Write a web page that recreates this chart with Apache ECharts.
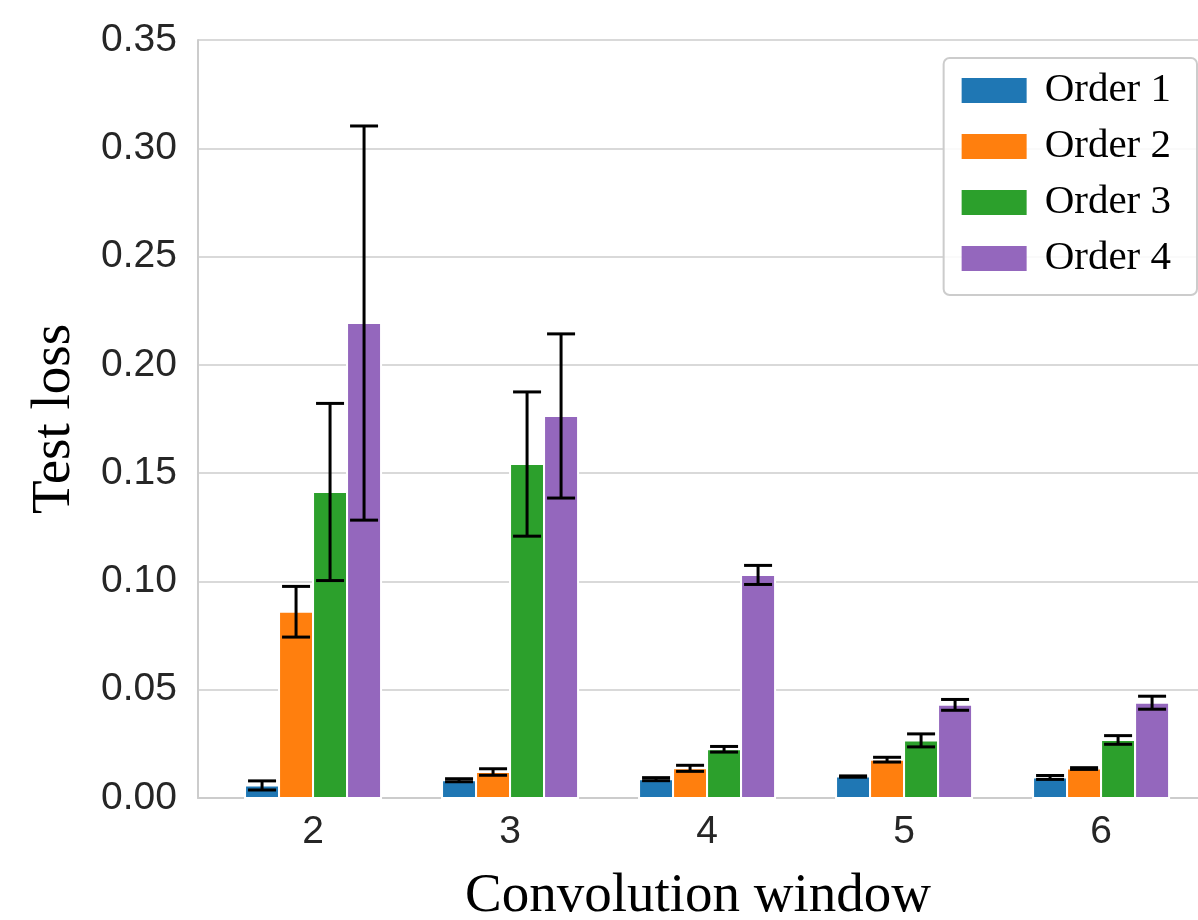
<!DOCTYPE html>
<html><head><meta charset="utf-8">
<script src="https://cdn.jsdelivr.net/npm/echarts@6/dist/echarts.min.js"></script>
<style>html,body{margin:0;padding:0;background:#fff}#c{width:1198px;height:920px}</style>
</head><body><div id="c"></div>
<script>
const categories = ['2', '3', '4', '5', '6'];
const seriesNames = ['Order 1', 'Order 2', 'Order 3', 'Order 4'];
const order1Mean = [0.0058, 0.0082, 0.0087, 0.0099, 0.0095];
const order1Err  = [0.0021, 0.0007, 0.0007, 0.0003, 0.0009];
const order2Mean = [0.0860, 0.0120, 0.0137, 0.0177, 0.0136];
const order2Err  = [0.0117, 0.0015, 0.0014, 0.0011, 0.0004];
const order3Mean = [0.1413, 0.1542, 0.0225, 0.0266, 0.0268];
const order3Err  = [0.0409, 0.0333, 0.0013, 0.0030, 0.0020];
const order4Mean = [0.2193, 0.1764, 0.1030, 0.0430, 0.0440];
const order4Err  = [0.0910, 0.0379, 0.0044, 0.0025, 0.0030];
const yTicks = [0, 0.05, 0.10, 0.15, 0.20, 0.25, 0.30, 0.35];

const means = [order1Mean, order2Mean, order3Mean, order4Mean];
const errs = [order1Err, order2Err, order3Err, order4Err];
const colors = ['#1f77b4', '#ff7f0e', '#2ca02c', '#9467bd'];
const slot = 0.1726;

const chart = echarts.init(document.getElementById('c'), null, {renderer: 'canvas'});

const series = seriesNames.map((name, s) => ({
  name: name,
  type: 'custom',
  itemStyle: {color: colors[s]},
  data: categories.map((c, i) => [i, means[s][i], errs[s][i]]),
  renderItem: function (params, api) {
    const ci = api.value(0), m = api.value(1), e = api.value(2);
    const xc = ci + (s - 1.5) * slot;
    const top = api.coord([xc, m]);
    const base = api.coord([xc, 0]);
    const w = api.size([slot, 0])[0];
    const hi = api.coord([xc, m + e]);
    const lo = api.coord([xc, m - e]);
    const cap = 14;
    const ls = {stroke: '#000', lineWidth: 3};
    return {
      type: 'group',
      children: [
        {type: 'rect', shape: {x: top[0] - w / 2, y: top[1], width: w, height: base[1] - top[1]},
         style: {fill: colors[s], stroke: '#fff', lineWidth: 2}},
        {type: 'line', shape: {x1: top[0], y1: hi[1], x2: top[0], y2: lo[1]}, style: ls},
        {type: 'line', shape: {x1: top[0] - cap, y1: hi[1], x2: top[0] + cap, y2: hi[1]}, style: ls},
        {type: 'line', shape: {x1: top[0] - cap, y1: lo[1], x2: top[0] + cap, y2: lo[1]}, style: ls}
      ]
    };
  }
}));

chart.setOption({
  animation: false,
  backgroundColor: '#fff',
  grid: {left: 198, right: 0, top: 40, bottom: 122, containLabel: false, outerBoundsMode: 'none'},
  legend: {
    orient: 'vertical', right: 1, top: 58,
    data: seriesNames.map(n => ({name: n, icon: 'rect'})),
    itemWidth: 65, itemHeight: 25, itemGap: 15,
    padding: [12, 26, 16, 18],
    borderColor: '#cccccc', borderWidth: 2, borderRadius: 6,
    backgroundColor: 'rgba(255,255,255,0.85)',
    selectedMode: false,
    textStyle: {fontFamily: 'Liberation Serif', fontSize: 41, color: '#000', padding: [0, 0, 0, 13]}
  },
  xAxis: {
    type: 'value', min: -0.584, max: 4.492,
    name: 'Convolution window', nameLocation: 'middle', nameGap: 71,
    nameTextStyle: {fontFamily: 'Liberation Serif', fontSize: 55, color: '#000'},
    axisLine: {show: true, onZero: false, lineStyle: {color: '#cccccc', width: 2}},
    axisTick: {show: false},
    splitLine: {show: false},
    axisLabel: {customValues: [0, 1, 2, 3, 4], formatter: v => categories[Math.round(v)],
      fontFamily: 'Liberation Sans', fontSize: 39, color: '#262626', margin: 15}
  },
  yAxis: {
    type: 'value', min: 0, max: 0.35, interval: 0.05,
    name: 'Test loss', nameLocation: 'middle', nameGap: 116,
    nameTextStyle: {fontFamily: 'Liberation Serif', fontSize: 55, color: '#000'},
    axisLine: {show: true, onZero: false, lineStyle: {color: '#cccccc', width: 2}},
    axisTick: {show: false},
    splitLine: {show: true, lineStyle: {color: '#cccccc', width: 1.5}},
    axisLabel: {formatter: v => v.toFixed(2), fontFamily: 'Liberation Sans', fontSize: 39, color: '#262626', margin: 21}
  },
  series: series
});
</script></body></html>
